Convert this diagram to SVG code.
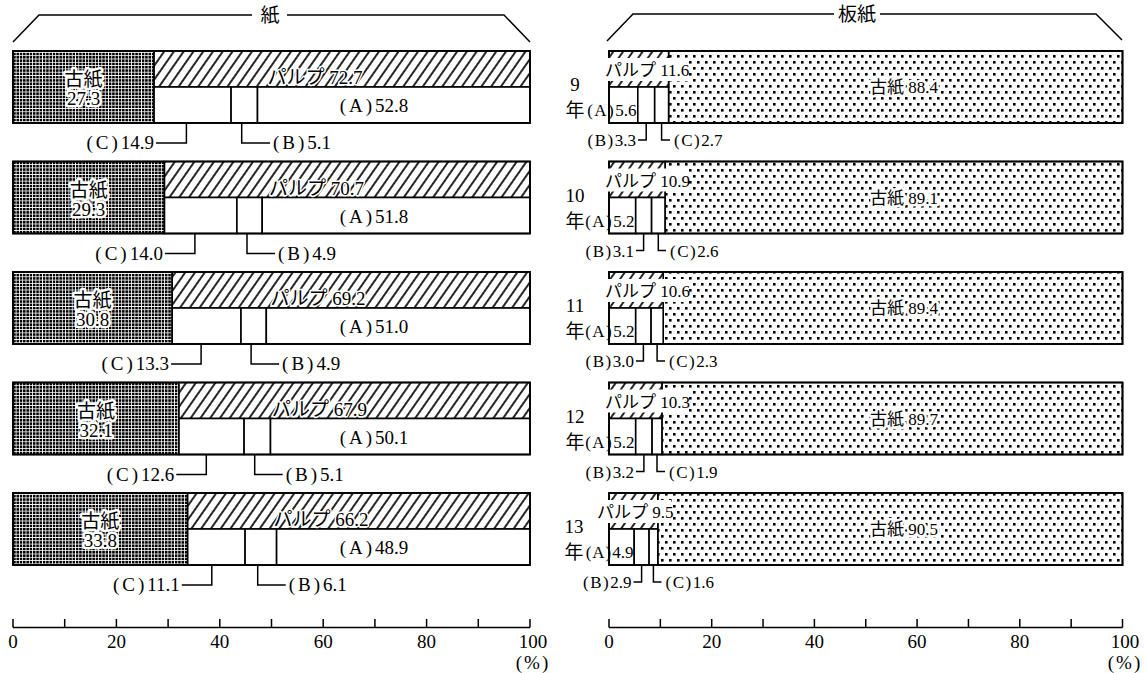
<svg xmlns="http://www.w3.org/2000/svg" width="1147" height="673" viewBox="0 0 1147 673">
<style>
.t{font-family:'Liberation Serif','Noto Sans CJK JP',serif;font-size:19px;fill:#000}
.s{font-size:17px}
.m{text-anchor:middle}
.e{text-anchor:end}
.h{stroke:#fff;stroke-width:5;paint-order:stroke;stroke-linejoin:round}
.h3{stroke:#fff;stroke-width:3;paint-order:stroke;stroke-linejoin:round}
.ol{fill:none;stroke:#000;stroke-width:1.8}
.wb{fill:#fff;stroke:#000;stroke-width:1.6}
.ln{fill:none;stroke:#000;stroke-width:1.5}
.dk{fill:url(#dense);stroke:#000;stroke-width:1.6}
.ht{fill:url(#hatch);stroke:#000;stroke-width:1.6}
.dt{fill:url(#dots);stroke:#000;stroke-width:1.6}
</style>
<defs>
<pattern id="dense" patternUnits="userSpaceOnUse" width="3.3" height="3.3">
<rect width="3.3" height="3.3" fill="#fff"/>
<rect x="0" y="0" width="2.5" height="2.5" fill="#000"/>
</pattern>
<pattern id="hatch" patternUnits="userSpaceOnUse" width="8" height="8" patternTransform="rotate(35)">
<rect width="8" height="8" fill="#fff"/>
<line x1="4" y1="0" x2="4" y2="8" stroke="#000" stroke-width="1.7"/>
</pattern>
<pattern id="dots" patternUnits="userSpaceOnUse" width="8" height="12">
<rect width="8" height="12" fill="#fff"/>
<rect x="1" y="1" width="2.6" height="2.6" fill="#000"/>
<rect x="5" y="7" width="2.6" height="2.6" fill="#000"/>
</pattern>
</defs>
<rect width="1147" height="673" fill="#fff"/>

<g id="bracket-paper">
<path class="ln" d="M13,42 L39,15 H252 M287,15 H504 L530,42"/>
<text class="t m" x="270" y="22" font-size="18">紙</text>
</g>
<g id="bracket-board">
<path class="ln" d="M607,41 L633,14 H834 M880,14 H1096 L1122,40"/>
<text class="t m" x="857" y="21" font-size="18">板紙</text>
</g>

<!-- Left chart: 紙 -->
<g id="paper-9">
<rect class="dk" x="13" y="51" width="141.1" height="72"/>
<rect class="ht" x="154.1" y="51" width="375.9" height="36"/>
<rect class="wb" x="154.1" y="87" width="77" height="36"/>
<rect class="wb" x="231.1" y="87" width="26.4" height="36"/>
<rect class="wb" x="257.5" y="87" width="272.5" height="36"/>
<rect class="ol" x="13" y="51" width="517" height="72"/>
<text class="t m h" x="83.5" y="86">古紙</text>
<text class="t m h" x="83.5" y="105">27.3</text>
<text class="t m h3" x="315" y="84">パルプ 72.7</text>
<text class="t m" x="374" y="112"><tspan letter-spacing="3">(A)</tspan>52.8</text>
<text class="t e" x="154" y="149"><tspan letter-spacing="3">(C)</tspan>14.9</text>
<text class="t" x="273" y="149"><tspan letter-spacing="3">(B)</tspan>5.1</text>
</g>
<g id="paper-10">
<rect class="dk" x="13" y="161.5" width="151.5" height="72"/>
<rect class="ht" x="164.5" y="161.5" width="365.5" height="36"/>
<rect class="wb" x="164.5" y="197.5" width="72.4" height="36"/>
<rect class="wb" x="236.9" y="197.5" width="25.3" height="36"/>
<rect class="wb" x="262.2" y="197.5" width="267.8" height="36"/>
<rect class="ol" x="13" y="161.5" width="517" height="72"/>
<text class="t m h" x="88.7" y="196.5">古紙</text>
<text class="t m h" x="88.7" y="215.5">29.3</text>
<text class="t m h3" x="316.5" y="194.5">パルプ 70.7</text>
<text class="t m" x="374" y="222.5"><tspan letter-spacing="3">(A)</tspan>51.8</text>
<text class="t e" x="162.9" y="259.5"><tspan letter-spacing="3">(C)</tspan>14.0</text>
<text class="t" x="278" y="259.5"><tspan letter-spacing="3">(B)</tspan>4.9</text>
</g>
<g id="paper-11">
<rect class="dk" x="13" y="272" width="159.2" height="72"/>
<rect class="ht" x="172.2" y="272" width="357.8" height="36"/>
<rect class="wb" x="172.2" y="308" width="68.8" height="36"/>
<rect class="wb" x="241" y="308" width="25.3" height="36"/>
<rect class="wb" x="266.3" y="308" width="263.7" height="36"/>
<rect class="ol" x="13" y="272" width="517" height="72"/>
<text class="t m h" x="92.6" y="307">古紙</text>
<text class="t m h" x="92.6" y="326">30.8</text>
<text class="t m h3" x="318" y="305">パルプ 69.2</text>
<text class="t m" x="374" y="333"><tspan letter-spacing="3">(A)</tspan>51.0</text>
<text class="t e" x="169.1" y="370"><tspan letter-spacing="3">(C)</tspan>13.3</text>
<text class="t" x="282.1" y="370"><tspan letter-spacing="3">(B)</tspan>4.9</text>
</g>
<g id="paper-12">
<rect class="dk" x="13" y="382.5" width="166" height="72"/>
<rect class="ht" x="179" y="382.5" width="351" height="36"/>
<rect class="wb" x="179" y="418.5" width="65.1" height="36"/>
<rect class="wb" x="244.1" y="418.5" width="26.4" height="36"/>
<rect class="wb" x="270.5" y="418.5" width="259.5" height="36"/>
<rect class="ol" x="13" y="382.5" width="517" height="72"/>
<text class="t m h" x="96" y="417.5">古紙</text>
<text class="t m h" x="96" y="436.5">32.1</text>
<text class="t m h3" x="319.5" y="415.5">パルプ 67.9</text>
<text class="t m" x="374" y="443.5"><tspan letter-spacing="3">(A)</tspan>50.1</text>
<text class="t e" x="174.3" y="480.5"><tspan letter-spacing="3">(C)</tspan>12.6</text>
<text class="t" x="285.7" y="480.5"><tspan letter-spacing="3">(B)</tspan>5.1</text>
</g>
<g id="paper-13">
<rect class="dk" x="13" y="493" width="174.7" height="72"/>
<rect class="ht" x="187.7" y="493" width="342.3" height="36"/>
<rect class="wb" x="187.7" y="529" width="57.4" height="36"/>
<rect class="wb" x="245.1" y="529" width="31.5" height="36"/>
<rect class="wb" x="276.6" y="529" width="253.4" height="36"/>
<rect class="ol" x="13" y="493" width="517" height="72"/>
<text class="t m h" x="100.3" y="528">古紙</text>
<text class="t m h" x="100.3" y="547">33.8</text>
<text class="t m h3" x="321" y="526">パルプ 66.2</text>
<text class="t m" x="374" y="554"><tspan letter-spacing="3">(A)</tspan>48.9</text>
<text class="t e" x="179.8" y="591"><tspan letter-spacing="3">(C)</tspan>11.1</text>
<text class="t" x="288.7" y="591"><tspan letter-spacing="3">(B)</tspan>6.1</text>
</g>

<!-- Right chart: 板紙 -->
<g id="board-9">
<rect class="dt" x="668.6" y="51" width="453.9" height="72"/>
<rect class="ht" x="609" y="51" width="59.6" height="36"/>
<rect class="wb" x="609" y="87" width="28.8" height="36"/>
<rect class="wb" x="637.8" y="87" width="16.9" height="36"/>
<rect class="wb" x="654.7" y="87" width="13.9" height="36"/>
<rect class="ol" x="609" y="51" width="513.5" height="72"/>
<rect x="604" y="58" width="85" height="23" fill="#fff"/>
<text class="t s" x="605" y="76">パルプ 11.6</text>
<text class="t s m h" x="904" y="93">古紙 88.4</text>
<text class="t s e" x="636.5" y="116"><tspan letter-spacing="1.5">(A)</tspan>5.6</text>
<text class="t s e" x="636" y="146"><tspan letter-spacing="1.5">(B)</tspan>3.3</text>
<text class="t s" x="674" y="146"><tspan letter-spacing="1.5">(C)</tspan>2.7</text>
<text class="t m" x="575" y="91" font-size="20">9</text>
<text class="t m" x="575" y="117" font-size="20">年</text>
</g>
<g id="board-10">
<rect class="dt" x="665" y="161.5" width="457.5" height="72"/>
<rect class="ht" x="609" y="161.5" width="56" height="36"/>
<rect class="wb" x="609" y="197.5" width="26.7" height="36"/>
<rect class="wb" x="635.7" y="197.5" width="15.9" height="36"/>
<rect class="wb" x="651.6" y="197.5" width="13.4" height="36"/>
<rect class="ol" x="609" y="161.5" width="513.5" height="72"/>
<rect x="604" y="168.5" width="85" height="23" fill="#fff"/>
<text class="t s" x="605" y="186.5">パルプ 10.9</text>
<text class="t s m h" x="904" y="203.5">古紙 89.1</text>
<text class="t s e" x="634.5" y="226.5"><tspan letter-spacing="1.5">(A)</tspan>5.2</text>
<text class="t s e" x="634" y="256.5"><tspan letter-spacing="1.5">(B)</tspan>3.1</text>
<text class="t s" x="670" y="256.5"><tspan letter-spacing="1.5">(C)</tspan>2.6</text>
<text class="t m" x="575" y="201.5" font-size="20">10</text>
<text class="t m" x="575" y="227.5" font-size="20">年</text>
</g>
<g id="board-11">
<rect class="dt" x="663.2" y="272" width="459.3" height="72"/>
<rect class="ht" x="609" y="272" width="54.2" height="36"/>
<rect class="wb" x="609" y="308" width="26.7" height="36"/>
<rect class="wb" x="635.7" y="308" width="15.4" height="36"/>
<rect class="wb" x="651.1" y="308" width="12.1" height="36"/>
<rect class="ol" x="609" y="272" width="513.5" height="72"/>
<rect x="604" y="279" width="85" height="23" fill="#fff"/>
<text class="t s" x="605" y="297">パルプ 10.6</text>
<text class="t s m h" x="904" y="314">古紙 89.4</text>
<text class="t s e" x="634.5" y="337"><tspan letter-spacing="1.5">(A)</tspan>5.2</text>
<text class="t s e" x="634" y="367"><tspan letter-spacing="1.5">(B)</tspan>3.0</text>
<text class="t s" x="669" y="367"><tspan letter-spacing="1.5">(C)</tspan>2.3</text>
<text class="t m" x="575" y="312" font-size="20">11</text>
<text class="t m" x="575" y="338" font-size="20">年</text>
</g>
<g id="board-12">
<rect class="dt" x="661.9" y="382.5" width="460.6" height="72"/>
<rect class="ht" x="609" y="382.5" width="52.9" height="36"/>
<rect class="wb" x="609" y="418.5" width="26.7" height="36"/>
<rect class="wb" x="635.7" y="418.5" width="16.4" height="36"/>
<rect class="wb" x="652.1" y="418.5" width="9.8" height="36"/>
<rect class="ol" x="609" y="382.5" width="513.5" height="72"/>
<rect x="604" y="389.5" width="85" height="23" fill="#fff"/>
<text class="t s" x="605" y="407.5">パルプ 10.3</text>
<text class="t s m h" x="904" y="424.5">古紙 89.7</text>
<text class="t s e" x="634.5" y="447.5"><tspan letter-spacing="1.5">(A)</tspan>5.2</text>
<text class="t s e" x="634" y="477.5"><tspan letter-spacing="1.5">(B)</tspan>3.2</text>
<text class="t s" x="669" y="477.5"><tspan letter-spacing="1.5">(C)</tspan>1.9</text>
<text class="t m" x="575" y="422.5" font-size="20">12</text>
<text class="t m" x="575" y="448.5" font-size="20">年</text>
</g>
<g id="board-13">
<rect class="dt" x="657.8" y="493" width="464.7" height="72"/>
<rect class="ht" x="609" y="493" width="48.8" height="36"/>
<rect class="wb" x="609" y="529" width="25.2" height="36"/>
<rect class="wb" x="634.2" y="529" width="14.9" height="36"/>
<rect class="wb" x="649.1" y="529" width="8.7" height="36"/>
<rect class="ol" x="609" y="493" width="513.5" height="72"/>
<rect x="596" y="500" width="75" height="23" fill="#fff"/>
<text class="t s" x="597" y="518">パルプ 9.5</text>
<text class="t s m h" x="904" y="535">古紙 90.5</text>
<text class="t s e" x="633.5" y="558"><tspan letter-spacing="1">(A)</tspan>4.9</text>
<text class="t s e" x="631.5" y="588"><tspan letter-spacing="1.5">(B)</tspan>2.9</text>
<text class="t s" x="665.5" y="588"><tspan letter-spacing="1.5">(C)</tspan>1.6</text>
<text class="t m" x="574" y="533" font-size="20">13</text>
<text class="t m" x="574" y="559" font-size="20">年</text>
</g>

<g id="connectors">
<path class="ln" d="M186.4,123 V143 H156 M241.7,123 V143 H270"/>
<path class="ln" d="M194.9,233.5 V253.5 H164.9 M247,233.5 V253.5 H275"/>
<path class="ln" d="M201.1,344 V364 H171.1 M251.1,344 V364 H279.1"/>
<path class="ln" d="M206.3,454.5 V474.5 H176.3 M254.7,454.5 V474.5 H282.7"/>
<path class="ln" d="M211.8,565 V585 H181.8 M257.7,565 V585 H285.7"/>
<path class="ln" d="M646.2,123 V140 H638 M661.6,123 V140 H670"/>
<path class="ln" d="M643.6,233.5 V250.5 H636 M658.3,233.5 V250.5 H666"/>
<path class="ln" d="M643.4,344 V361 H636 M657.1,344 V361 H665"/>
<path class="ln" d="M643.9,454.5 V471.5 H636 M657,454.5 V471.5 H665"/>
<path class="ln" d="M641.6,565 V582 H633.5 M653.4,565 V582 H661.5"/>
</g>

<g id="axis-paper">
<path class="ln" d="M13,627.5 H530 M13,619 V627.5 M64.7,619 V627.5 M116.4,619 V627.5 M168.1,619 V627.5 M219.8,619 V627.5 M271.5,619 V627.5 M323.2,619 V627.5 M374.9,619 V627.5 M426.6,619 V627.5 M478.3,619 V627.5 M530,619 V627.5"/>
<text class="t m" x="13" y="648">0</text>
<text class="t m" x="116.4" y="648">20</text>
<text class="t m" x="219.8" y="648">40</text>
<text class="t m" x="323.2" y="648">60</text>
<text class="t m" x="426.6" y="648">80</text>
<text class="t m" x="533" y="648">100</text>
<text class="t m" x="533" y="669" font-size="17" letter-spacing="2">(%)</text>
</g>
<g id="axis-board">
<path class="ln" d="M609,627.5 H1122.5 M609,619 V627.5 M660.35,619 V627.5 M711.7,619 V627.5 M763.05,619 V627.5 M814.4,619 V627.5 M865.75,619 V627.5 M917.1,619 V627.5 M968.45,619 V627.5 M1019.8,619 V627.5 M1071.15,619 V627.5 M1122.5,619 V627.5"/>
<text class="t m" x="609" y="648">0</text>
<text class="t m" x="711.7" y="648">20</text>
<text class="t m" x="814.4" y="648">40</text>
<text class="t m" x="917.1" y="648">60</text>
<text class="t m" x="1019.8" y="648">80</text>
<text class="t m" x="1125" y="648">100</text>
<text class="t m" x="1125" y="669" font-size="17" letter-spacing="2">(%)</text>
</g>
</svg>
